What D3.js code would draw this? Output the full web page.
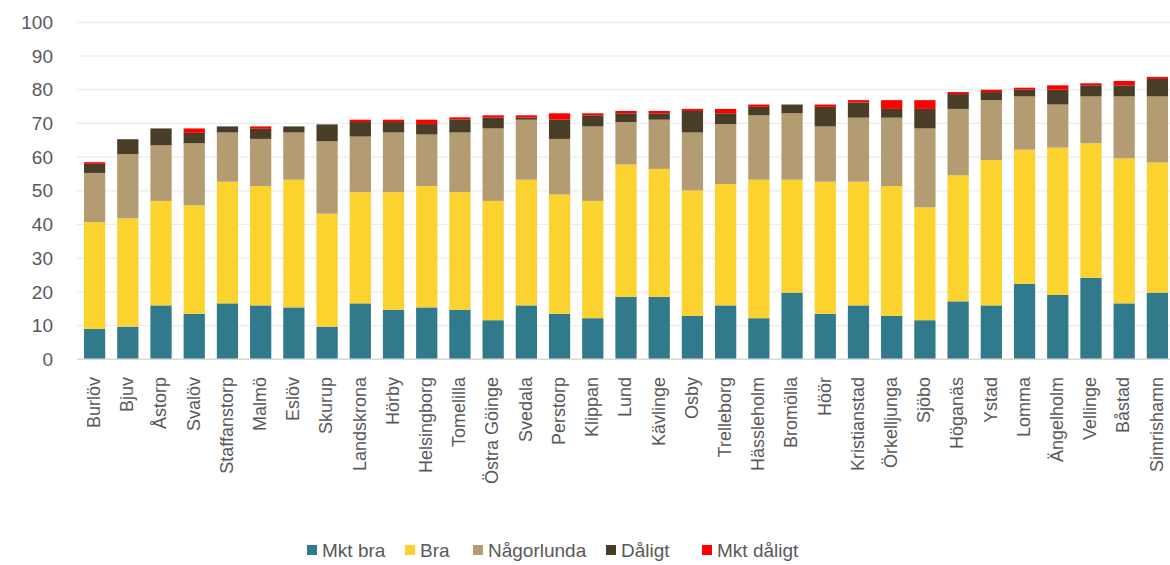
<!DOCTYPE html>
<html>
<head>
<meta charset="utf-8">
<script src="https://cdn.jsdelivr.net/npm/d3@7"></script>
<style>
  body { margin: 0; background: #fff; }
  text { font-family: "Liberation Sans", Arial, sans-serif; }
</style>
</head>
<body>
<div class="chart"></div>
<script>
// kommuner, sorted by total
const kommuner = ["Burlöv", "Bjuv", "Åstorp", "Svalöv", "Staffanstorp", "Malmö", "Eslöv", "Skurup",
  "Landskrona", "Hörby", "Helsingborg", "Tomelilla", "Östra Göinge", "Svedala", "Perstorp", "Klippan",
  "Lund", "Kävlinge", "Osby", "Trelleborg", "Hässleholm", "Bromölla", "Höör", "Kristianstad",
  "Örkelljunga", "Sjöbo", "Höganäs", "Ystad", "Lomma", "Ängelholm", "Vellinge", "Båstad", "Simrishamn"];

const mktBra      = [9.0, 9.7, 16.0, 13.5, 16.6, 16.0, 15.4, 9.7, 16.6, 14.7, 15.4, 14.7, 11.6, 16.0, 13.5, 12.2,
  18.5, 18.5, 12.9, 16.0, 12.2, 19.8, 13.5, 16.0, 12.9, 11.6, 17.2, 16.0, 22.4, 19.1, 24.2, 16.6, 19.8];
const bra         = [31.7, 32.1, 31.0, 32.2, 36.1, 35.4, 37.9, 33.5, 33.0, 34.9, 36.0, 34.9, 35.4, 37.3, 35.4, 34.8,
  39.3, 38.0, 37.2, 36.0, 41.1, 33.5, 39.2, 36.7, 38.5, 33.5, 37.4, 43.1, 39.8, 43.7, 39.9, 43.0, 38.6];
const nagorlunda  = [14.6, 19.1, 16.5, 18.4, 14.6, 14.0, 14.0, 21.5, 16.5, 17.7, 15.3, 17.7, 21.5, 17.8, 16.5, 22.1,
  12.6, 14.6, 17.2, 17.8, 19.1, 19.7, 16.4, 19.0, 20.3, 23.4, 19.7, 17.8, 15.8, 12.8, 13.9, 18.4, 19.6];
const daligt      = [2.7, 4.4, 5.0, 3.1, 1.8, 3.0, 1.8, 5.0, 4.3, 3.1, 3.1, 3.9, 3.2, 0.6, 5.7, 3.3,
  2.6, 1.9, 6.4, 3.2, 2.5, 2.6, 5.8, 4.5, 2.6, 5.8, 4.4, 2.4, 2.0, 4.4, 3.3, 3.3, 5.2];
const mktDaligt   = [0.5, 0, 0, 1.3, 0, 0.7, 0, 0, 0.7, 0.7, 1.3, 0.6, 0.7, 0.7, 1.9, 0.6,
  0.7, 0.7, 0.6, 1.3, 0.7, 0, 0.7, 0.7, 2.6, 2.6, 0.6, 0.7, 0.6, 1.3, 0.6, 1.3, 0.6];

const serier = ["Mkt bra", "Bra", "Någorlunda", "Dåligt", "Mkt dåligt"];
const yTicks = [0, 10, 20, 30, 40, 50, 60, 70, 80, 90, 100];

const width = 1170;
const height = 565;

const color = d3.scaleOrdinal()
  .domain(serier)
  .range(["#307a8c", "#fcd32e", "#b39c71", "#483d27", "#ff0000"]);

// build rows for the stack
const rows = kommuner.map(function(k, i) {
  return {
    kommun: k,
    "Mkt bra": mktBra[i],
    "Bra": bra[i],
    "Någorlunda": nagorlunda[i],
    "Dåligt": daligt[i],
    "Mkt dåligt": mktDaligt[i]
  };
});

const stacked = d3.stack().keys(serier)(rows);

const svg = d3.select(".chart")
  .append("svg")
    .attr("width", width)
    .attr("height", height);

const x = d3.scaleBand()
  .domain(kommuner)
  .range([78, 1174])
  .paddingInner(0.36)
  .paddingOuter(0.18);

const y = d3.scaleLinear()
  .domain([0, 100])
  .range([359.3, 22.3]);

// gridlines
svg.append("g")
  .selectAll("line")
  .data(yTicks.filter(function(d) { return d > 0; }))
  .enter()
  .append("line")
    .attr("x1", 77)
    .attr("x2", width)
    .attr("y1", function(d) { return y(d); })
    .attr("y2", function(d) { return y(d); })
    .attr("stroke", "#ececec")
    .attr("stroke-width", 1.2);

// y tick labels
svg.append("g")
  .selectAll("text")
  .data(yTicks)
  .enter()
  .append("text")
    .attr("x", 53)
    .attr("y", function(d) { return y(d); })
    .attr("dy", "0.35em")
    .attr("text-anchor", "end")
    .attr("fill", "#595959")
    .style("font-size", "19px")
    .text(function(d) { return d; });

// bars
svg.append("g")
  .selectAll("g")
  .data(stacked)
  .enter()
  .append("g")
    .attr("fill", function(d) { return color(d.key); })
  .selectAll("rect")
  .data(function(d) { return d; })
  .enter()
  .append("rect")
    .attr("x", function(d) { return x(d.data.kommun); })
    .attr("y", function(d) { return y(d[1]); })
    .attr("width", x.bandwidth())
    .attr("height", function(d) { return Math.max(0, y(d[0]) - y(d[1])); });

// baseline
svg.append("line")
  .attr("x1", 77)
  .attr("x2", width)
  .attr("y1", y(0))
  .attr("y2", y(0))
  .attr("stroke", "#d9d9d9")
  .attr("stroke-width", 1.5);

// x labels, rotated
svg.append("g")
  .selectAll("text")
  .data(kommuner)
  .enter()
  .append("text")
    .attr("transform", function(d) {
      return "translate(" + (x(d) + x.bandwidth() / 2 - 1) + ",377) rotate(-90)";
    })
    .attr("dy", "0.35em")
    .attr("text-anchor", "end")
    .attr("fill", "#595959")
    .style("font-size", "18px")
    .text(function(d) { return d; });

// legend
const legendX = [307, 405, 473, 606, 702];
const legend = svg.append("g")
  .selectAll("g")
  .data(serier)
  .enter()
  .append("g")
    .attr("transform", function(d, i) { return "translate(" + legendX[i] + ",550)"; });

legend.append("rect")
  .attr("x", 0)
  .attr("y", -5)
  .attr("width", 10)
  .attr("height", 10)
  .attr("fill", function(d) { return color(d); });

legend.append("text")
  .attr("x", 15)
  .attr("y", 0)
  .attr("dy", "0.35em")
  .attr("fill", "#595959")
  .style("font-size", "19px")
  .text(function(d) { return d; });
</script>
</body>
</html>
